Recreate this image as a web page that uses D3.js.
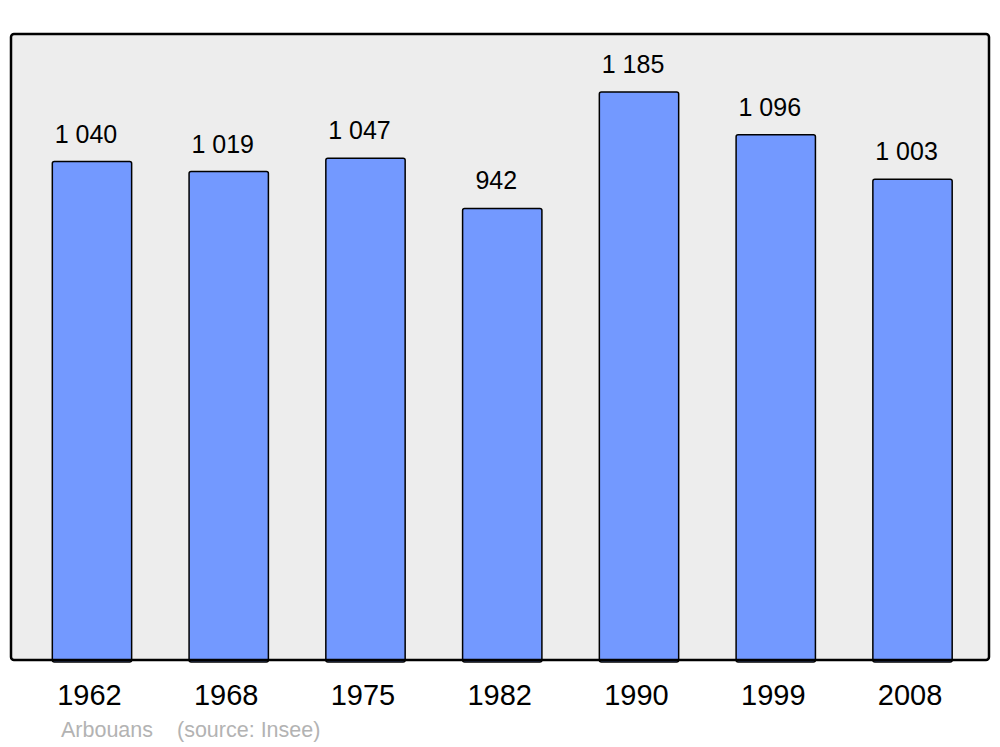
<!DOCTYPE html>
<html>
<head>
<meta charset="utf-8">
<script src="https://cdn.jsdelivr.net/npm/d3@7"></script>
<style>
  body { margin: 0; background: #fff; }
  svg { display: block; font-family: "Liberation Sans", Arial, sans-serif; }
</style>
</head>
<body>
<div id="chart"></div>
<script>
const years = ["1962", "1968", "1975", "1982", "1990", "1999", "2008"]
const population = [1040, 1019, 1047, 942, 1185, 1096, 1003]
const valueLabels = ["1 040", "1 019", "1 047", "942", "1 185", "1 096", "1 003"]
const footer = ["Arbouans", "(source: Insee)"]

const w = 1000, h = 747
const panel = {left: 11, top: 34, right: 989, bottom: 660}

const svg = d3.select("#chart")
    .append("svg")
    .attr("width", w)
    .attr("height", h)

const x = d3.scaleBand()
    .domain(years)
    .range([23.6, 980.9])
    .paddingInner(0.42)
    .paddingOuter(0.21)

const y = d3.scaleLinear()
    .domain([0, 1185])
    .range([panel.bottom, 92])

svg.append("rect")
    .attr("x", panel.left)
    .attr("y", panel.top)
    .attr("width", panel.right - panel.left)
    .attr("height", panel.bottom - panel.top)
    .attr("rx", 3)
    .attr("fill", "#ededed")

const data = years.map((d, i) => ({year: d, value: population[i], label: valueLabels[i]}))

svg.append("g")
    .selectAll("rect")
    .data(data)
    .join("rect")
        .attr("x", d => x(d.year))
        .attr("y", d => y(d.value))
        .attr("width", x.bandwidth())
        .attr("height", d => y(0) - y(d.value) + 2)
        .attr("rx", 2)
        .attr("fill", "#7399ff")
        .attr("stroke", "#000")
        .attr("stroke-width", 1.5)

// panel border drawn on top so the bars sit inside it
svg.append("rect")
    .attr("x", panel.left)
    .attr("y", panel.top)
    .attr("width", panel.right - panel.left)
    .attr("height", panel.bottom - panel.top)
    .attr("rx", 3)
    .attr("fill", "none")
    .attr("stroke", "#000")
    .attr("stroke-width", 2.5)

svg.append("g")
    .attr("font-size", 25)
    .attr("text-anchor", "middle")
    .selectAll("text")
    .data(data)
    .join("text")
        .attr("x", d => x(d.year) + x.bandwidth() / 2 - 6)
        .attr("y", d => y(d.value) - 19)
        .text(d => d.label)

svg.append("g")
    .attr("font-size", 29)
    .attr("text-anchor", "middle")
    .selectAll("text")
    .data(years)
    .join("text")
        .attr("x", d => x(d) + x.bandwidth() / 2 - 2.5)
        .attr("y", 705)
        .text(d => d)

svg.append("text")
    .attr("x", 61)
    .attr("y", 737)
    .attr("font-size", 21.5)
    .attr("fill", "#b3b3b3")
    .text(footer[0])

svg.append("text")
    .attr("x", 177)
    .attr("y", 737)
    .attr("font-size", 21.5)
    .attr("fill", "#b3b3b3")
    .text(footer[1])
</script>
</body>
</html>
